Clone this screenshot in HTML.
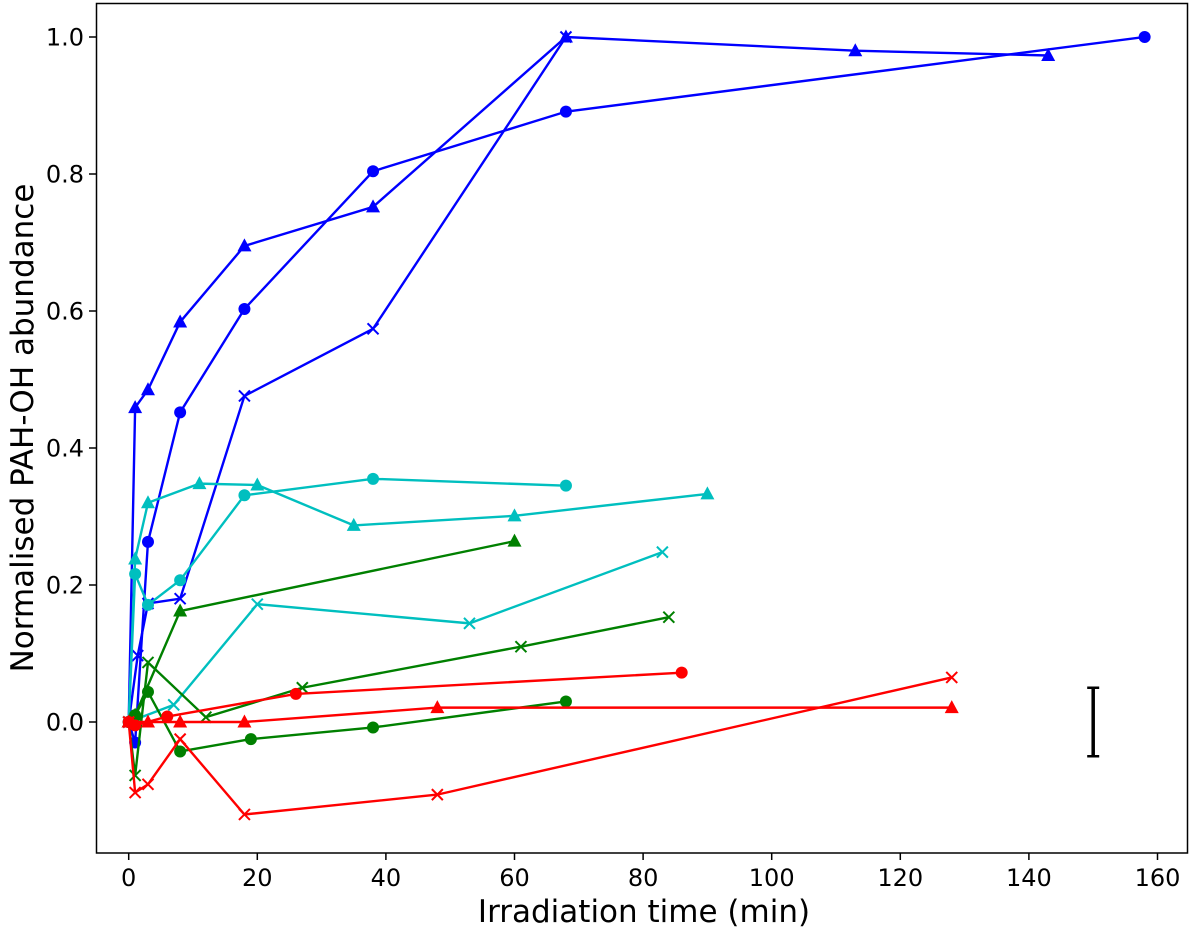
<!DOCTYPE html>
<html><head><meta charset="utf-8"><style>
html,body{margin:0;padding:0;background:#fff;}
svg text{font-family:"DejaVu Sans","Liberation Sans",sans-serif;fill:#000;}
</style></head><body>
<svg id="chart" width="1200" height="934" xmlns="http://www.w3.org/2000/svg">
<g id="marks"></g>
<rect x="96.5" y="3.5" width="1091" height="849.5" fill="none" stroke="#000" stroke-width="1.5"/>
<g id="axes"></g>
<text x="644" y="922" font-size="31" text-anchor="middle">Irradiation time (min)</text>
<text transform="translate(33,428) rotate(-90)" font-size="31" text-anchor="middle">Normalised PAH-OH abundance</text>
</svg>
<script>
const xTicks=[0,20,40,60,80,100,120,140,160];
const yTicks=[0.0,0.2,0.4,0.6,0.8,1.0];
const series=[];
const blueCircleX=[0,1,3,8,18,38,68,158];
const blueCircleY=[0,-0.03,0.263,0.452,0.603,0.804,0.891,1.0];
const blueTriX=[0,1,3,8,18,38,68,113,143];
const blueTriY=[0,0.459,0.485,0.584,0.695,0.752,1.0,0.98,0.973];
const blueCrossX=[0,1.4,3,8,18,38,68];
const blueCrossY=[0,0.097,0.173,0.18,0.476,0.574,1.0];
const cyanCircleX=[0,1,3,8,18,38,68];
const cyanCircleY=[0,0.216,0.171,0.207,0.331,0.355,0.345];
const cyanTriX=[0,1,3,11,20,35,60,90];
const cyanTriY=[0,0.238,0.32,0.348,0.346,0.287,0.301,0.333];
const cyanCrossX=[0,7,20,53,83];
const cyanCrossY=[0,0.025,0.172,0.144,0.248];
const greenTriX=[0,1,8,60];
const greenTriY=[0,0.01,0.162,0.264];
const greenCrossX=[0,1,3,12,27,61,84];
const greenCrossY=[0,-0.078,0.087,0.007,0.05,0.11,0.153];
const greenCircleX=[0,1,3,8,19,38,68];
const greenCircleY=[0,0.01,0.044,-0.043,-0.025,-0.008,0.03];
const redCircleX=[0,1,6,26,86];
const redCircleY=[0,-0.005,0.008,0.041,0.072];
const redTriX=[0,3,8,18,48,128];
const redTriY=[0,0,0,0,0.021,0.021];
const redCrossX=[0,1,3,8,18,48,128];
const redCrossY=[0,-0.103,-0.091,-0.025,-0.135,-0.106,0.065];
const errorBarX=[150];
const errorBarHalf=[0.05];
series.push(['blue-circle','#0000ff','o',blueCircleX,blueCircleY]);
series.push(['blue-triangle','#0000ff','^',blueTriX,blueTriY]);
series.push(['blue-cross','#0000ff','x',blueCrossX,blueCrossY]);
series.push(['cyan-circle','#00bfbf','o',cyanCircleX,cyanCircleY]);
series.push(['cyan-triangle','#00bfbf','^',cyanTriX,cyanTriY]);
series.push(['cyan-cross','#00bfbf','x',cyanCrossX,cyanCrossY]);
series.push(['green-triangle','#008000','^',greenTriX,greenTriY]);
series.push(['green-cross','#008000','x',greenCrossX,greenCrossY]);
series.push(['green-circle','#008000','o',greenCircleX,greenCircleY]);
series.push(['red-circle','#ff0000','o',redCircleX,redCircleY]);
series.push(['red-triangle','#ff0000','^',redTriX,redTriY]);
series.push(['red-cross','#ff0000','x',redCrossX,redCrossY]);

const NS='http://www.w3.org/2000/svg';
const sx=v=>128.7+v*6.43;
const sy=v=>722-v*685;
const marks=document.getElementById('marks');
const axes=document.getElementById('axes');
function mk(tag,attrs,parent){const e=document.createElementNS(NS,tag);for(const k in attrs)e.setAttribute(k,attrs[k]);parent.appendChild(e);return e;}

xTicks.forEach(t=>{
  const l=mk('line',{x1:sx(t),x2:sx(t),y1:853,y2:860,stroke:'#000','stroke-width':1.5},axes);
  
  
  const tx=mk('text',{x:sx(t),y:886,'font-size':24,'text-anchor':'middle'},axes);
  tx.textContent=String(t);
  
  
});
yTicks.forEach(t=>{
  const l=mk('line',{x1:89,x2:96.5,y1:sy(t),y2:sy(t),stroke:'#000','stroke-width':1.5},axes);
  
  
  const tx=mk('text',{x:84,y:sy(t)+8.5,'font-size':24,'text-anchor':'end'},axes);
  tx.textContent=t.toFixed(1);
  
  
});

series.forEach(([name,col,m,xs,ys])=>{
  const g=mk('g',{},marks);
  
  
  const pts=xs.map((x,i)=>sx(x)+','+sy(ys[i])).join(' ');
  const pl=mk('polyline',{points:pts,fill:'none',stroke:col,'stroke-width':2.4},g);
  
  
  xs.forEach((x,i)=>{
    const cx=sx(x),cy=sy(ys[i]);let e;
    if(m==='o')e=mk('circle',{cx:cx,cy:cy,r:6,fill:col},g);
    else if(m==='^')e=mk('polygon',{points:`${cx},${cy-7.5} ${cx-7},${cy+5.5} ${cx+7},${cy+5.5}`,fill:col},g);
    else e=mk('path',{d:`M${cx-5.5},${cy-5.5}L${cx+5.5},${cy+5.5}M${cx-5.5},${cy+5.5}L${cx+5.5},${cy-5.5}`,stroke:col,'stroke-width':2,fill:'none'},g);
    
    
  });
});

errorBarX.forEach((x,i)=>{
  const g=mk('g',{stroke:'#000','stroke-width':3.5},marks);
  
  
  const h=errorBarHalf[i];
  mk('line',{x1:sx(x),x2:sx(x),y1:sy(h),y2:sy(-h)},g);
  mk('line',{x1:sx(x)-6,x2:sx(x)+6,y1:sy(h),y2:sy(h),'stroke-width':2.5},g);
  mk('line',{x1:sx(x)-6,x2:sx(x)+6,y1:sy(-h),y2:sy(-h),'stroke-width':2.5},g);
});
</script>
</body></html>
